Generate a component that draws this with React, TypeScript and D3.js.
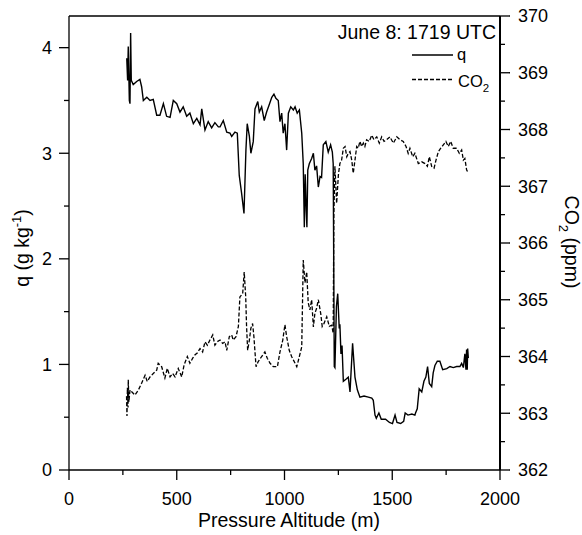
import React from 'react';
import * as d3 from 'd3';

// Aircraft profile, June 8, 1719 UTC: [pressure altitude (m), value]
const qProfile: [number, number][] = [
  [268, 3.90], [272, 3.69], [275, 4.01], [280, 3.50], [283, 3.47], [286, 4.14], [289, 3.69],
  [298, 3.65], [314, 3.68], [329, 3.70], [337, 3.63], [345, 3.50], [361, 3.53], [376, 3.50],
  [391, 3.51], [407, 3.36], [422, 3.36], [438, 3.47], [453, 3.35], [469, 3.34], [484, 3.50],
  [500, 3.47], [515, 3.39], [530, 3.44], [546, 3.35], [561, 3.38], [577, 3.28], [593, 3.33],
  [608, 3.27], [616, 3.42], [631, 3.22], [646, 3.30], [662, 3.24], [677, 3.29], [693, 3.25],
  [701, 3.25], [716, 3.31], [732, 3.20], [747, 3.19], [755, 3.16], [770, 3.20], [781, 3.19],
  [790, 2.79], [801, 2.62], [812, 2.43], [821, 3.03], [827, 3.28], [837, 3.16], [844, 3.00],
  [855, 3.11], [863, 3.42], [876, 3.49], [883, 3.39], [894, 3.44], [906, 3.31], [917, 3.39],
  [929, 3.46], [941, 3.53], [951, 3.56], [960, 3.52], [971, 3.50], [979, 3.30], [987, 3.38],
  [994, 3.19], [1002, 3.28], [1010, 3.03], [1018, 3.38], [1029, 3.44], [1041, 3.41],
  [1049, 3.44], [1059, 3.38], [1069, 3.41], [1080, 3.19], [1087, 2.90], [1092, 2.30],
  [1096, 2.80], [1101, 2.45], [1104, 2.30], [1108, 2.84], [1115, 2.90], [1126, 2.95],
  [1134, 3.00], [1141, 2.84], [1149, 2.88], [1157, 2.68], [1165, 2.78], [1172, 2.77],
  [1180, 3.08], [1192, 3.11], [1203, 3.01], [1214, 3.08], [1222, 3.01], [1226, 2.90],
  [1231, 0.98], [1234, 0.97], [1241, 1.55], [1247, 1.67], [1254, 1.34], [1257, 1.38],
  [1262, 1.10], [1267, 1.18], [1273, 0.84], [1285, 0.86], [1296, 0.88], [1304, 0.74],
  [1316, 1.20], [1327, 0.88], [1338, 0.76], [1350, 0.69], [1369, 0.70], [1389, 0.69],
  [1405, 0.68], [1412, 0.66], [1420, 0.52], [1426, 0.49], [1438, 0.54], [1449, 0.48],
  [1469, 0.48], [1487, 0.45], [1501, 0.44], [1513, 0.52], [1522, 0.45], [1539, 0.44],
  [1553, 0.46], [1560, 0.54], [1573, 0.52], [1591, 0.53], [1605, 0.52], [1608, 0.54],
  [1616, 0.58], [1625, 0.77], [1637, 0.74], [1647, 0.84], [1656, 0.88], [1664, 0.98],
  [1672, 0.82], [1683, 0.79], [1690, 0.92], [1698, 0.99], [1709, 1.03], [1721, 1.03],
  [1734, 0.95], [1753, 0.96], [1768, 0.98], [1783, 0.97], [1799, 0.98], [1814, 0.98],
  [1822, 1.01], [1830, 0.97], [1837, 1.10], [1842, 0.95], [1845, 1.14], [1848, 0.95],
  [1850, 1.15], [1853, 1.06],
];

const co2Profile: [number, number][] = [
  [267, 363.30], [269, 362.95], [271, 363.45], [274, 363.10], [275, 363.59], [278, 363.20],
  [283, 363.41], [291, 363.38], [306, 363.32], [322, 363.41], [337, 363.53], [353, 363.67],
  [363, 363.56], [376, 363.64], [391, 363.70], [407, 363.76], [414, 363.88], [430, 363.82],
  [445, 363.62], [456, 363.79], [469, 363.64], [481, 363.70], [492, 363.64], [507, 363.79],
  [523, 363.64], [534, 363.85], [549, 364.00], [561, 363.88], [574, 363.97], [585, 364.03],
  [595, 364.06], [608, 364.14], [620, 364.08], [631, 364.26], [642, 364.20], [654, 364.29],
  [667, 364.38], [677, 364.20], [688, 364.26], [701, 364.29], [713, 364.23], [724, 364.26],
  [732, 364.11], [744, 364.35], [755, 364.38], [762, 364.29], [775, 364.35], [786, 364.53],
  [793, 365.05], [806, 365.11], [813, 365.49], [820, 365.05], [824, 364.53], [829, 364.11],
  [837, 364.29], [844, 364.50], [852, 364.58], [858, 364.35], [868, 363.82], [878, 363.91],
  [894, 364.00], [909, 364.08], [920, 363.97], [933, 363.88], [948, 363.82], [967, 363.82],
  [979, 364.08], [992, 364.29], [1002, 364.56], [1010, 364.35], [1022, 364.11],
  [1033, 364.00], [1041, 363.94], [1057, 363.82], [1069, 364.00], [1080, 364.17],
  [1087, 365.70], [1095, 365.30], [1103, 365.49], [1110, 364.95], [1118, 364.82],
  [1126, 365.00], [1134, 364.52], [1141, 364.76], [1149, 364.85], [1157, 365.00],
  [1168, 364.76], [1175, 364.53], [1183, 364.58], [1196, 364.70], [1208, 364.53],
  [1219, 364.55], [1226, 364.41], [1229, 366.50], [1234, 367.35], [1242, 366.70],
  [1250, 367.20], [1257, 367.40], [1265, 367.46], [1273, 367.67], [1281, 367.70],
  [1289, 367.52], [1296, 367.58], [1304, 367.61], [1312, 367.46], [1319, 367.23],
  [1327, 367.46], [1335, 367.70], [1342, 367.67], [1350, 367.79], [1358, 367.70],
  [1366, 367.76], [1373, 367.70], [1381, 367.82], [1393, 367.79], [1405, 367.90],
  [1415, 367.82], [1428, 367.87], [1440, 367.76], [1451, 367.87], [1462, 367.79],
  [1474, 367.82], [1489, 367.87], [1505, 367.76], [1521, 367.87], [1536, 367.82],
  [1551, 367.79], [1564, 367.70], [1574, 367.58], [1582, 367.67], [1595, 367.52],
  [1605, 367.58], [1621, 367.40], [1637, 367.43], [1652, 367.40], [1663, 367.35],
  [1672, 367.52], [1683, 367.35], [1694, 367.32], [1703, 367.46], [1714, 367.61],
  [1725, 367.67], [1737, 367.73], [1749, 367.79], [1760, 367.70], [1771, 367.79],
  [1783, 367.67], [1799, 367.67], [1811, 367.58], [1822, 367.64], [1830, 367.46],
  [1837, 367.49], [1845, 367.29], [1853, 367.23],
];

const altTicks = [0, 500, 1000, 1500, 2000];
const altMinorTicks = [250, 750, 1250, 1750];
const qTicks = [0, 1, 2, 3, 4];
const qMinorTicks = [0.5, 1.5, 2.5, 3.5];
const co2Ticks = [362, 363, 364, 365, 366, 367, 368, 369, 370];
const co2MinorTicks = [362.5, 363.5, 364.5, 365.5, 366.5, 367.5, 368.5, 369.5];

const FONT = '"Liberation Sans", Arial, Helvetica, sans-serif';

const App: React.FC = () => {
  const width = 582;
  const height = 535;
  const margin = { top: 16, right: 82, bottom: 65, left: 69 };
  const x0 = margin.left;
  const x1 = width - margin.right;
  const y0 = height - margin.bottom;
  const y1 = margin.top;

  const x = d3.scaleLinear().domain([0, 2000]).range([x0, x1]);
  const yQ = d3.scaleLinear().domain([0, 4.3]).range([y0, y1]);
  const yC = d3.scaleLinear().domain([362, 370]).range([y0, y1]);

  const qLine = d3.line<[number, number]>()
    .x(d => x(d[0]))
    .y(d => yQ(d[1]));
  const co2Line = d3.line<[number, number]>()
    .x(d => x(d[0]))
    .y(d => yC(d[1]));

  const major = 10;
  const minor = 5;

  return (
    <svg
      width={width}
      height={height}
      style={{ position: 'absolute', left: 0, top: 0, background: '#fff' }}
      fontFamily={FONT}
    >
      {/* data */}
      <path d={co2Line(co2Profile) || ''} fill="none" stroke="#000" strokeWidth={1.3} strokeDasharray="4,2" />
      <path d={qLine(qProfile) || ''} fill="none" stroke="#000" strokeWidth={1.4} />

      {/* frame */}
      <line x1={x0} x2={x1} y1={y1} y2={y1} stroke="#000" strokeWidth={1.3} />
      <line x1={x0} x2={x1} y1={y0} y2={y0} stroke="#000" strokeWidth={1.3} />
      <line x1={x0} x2={x0} y1={y1} y2={y0} stroke="#000" strokeWidth={1.3} />
      <line x1={x1} x2={x1} y1={y1} y2={y0} stroke="#000" strokeWidth={2} />

      {/* bottom axis */}
      {altTicks.map(t => (
        <g key={'xt' + t}>
          <line x1={x(t)} x2={x(t)} y1={y0} y2={y0 + major} stroke="#000" strokeWidth={1.3} />
          <text x={x(t)} y={505} textAnchor="middle" fontSize={18}>{t}</text>
        </g>
      ))}
      {altMinorTicks.map(t => (
        <line key={'xm' + t} x1={x(t)} x2={x(t)} y1={y0} y2={y0 + minor} stroke="#000" strokeWidth={1.3} />
      ))}
      <text x={289} y={527} textAnchor="middle" fontSize={19.5}>Pressure Altitude (m)</text>

      {/* left axis */}
      {qTicks.map(t => (
        <g key={'qt' + t}>
          <line x1={x0 - major} x2={x0} y1={yQ(t)} y2={yQ(t)} stroke="#000" strokeWidth={1.3} />
          <text x={52} y={yQ(t)} dy="0.36em" textAnchor="end" fontSize={18}>{t}</text>
        </g>
      ))}
      {qMinorTicks.map(t => (
        <line key={'qm' + t} x1={x0 - minor} x2={x0} y1={yQ(t)} y2={yQ(t)} stroke="#000" strokeWidth={1.3} />
      ))}
      <text transform="translate(29,248) rotate(-90)" textAnchor="middle" fontSize={19.5}>
        q (g kg<tspan dy={-8} fontSize={13}>-1</tspan><tspan dy={8}>)</tspan>
      </text>

      {/* right axis */}
      {co2Ticks.map(t => (
        <g key={'ct' + t}>
          <line x1={x1} x2={x1 + major} y1={yC(t)} y2={yC(t)} stroke="#000" strokeWidth={1.3} />
          <text x={518} y={yC(t)} dy="0.36em" textAnchor="start" fontSize={18}>{t}</text>
        </g>
      ))}
      {co2MinorTicks.map(t => (
        <line key={'cm' + t} x1={x1} x2={x1 + minor} y1={yC(t)} y2={yC(t)} stroke="#000" strokeWidth={1.3} />
      ))}
      <text transform="translate(565,242) rotate(90)" textAnchor="middle" fontSize={19.5}>
        CO<tspan dy={6} fontSize={13}>2</tspan><tspan dy={-6}>{'\u00a0(ppm)'}</tspan>
      </text>

      {/* title and legend */}
      <text x={496} y={39} textAnchor="end" fontSize={19.5}>June 8: 1719 UTC</text>
      <line x1={412} x2={453} y1={55} y2={55} stroke="#000" strokeWidth={1.3} />
      <text x={457} y={60} fontSize={16.5}>q</text>
      <line x1={412} x2={453} y1={79.5} y2={79.5} stroke="#000" strokeWidth={1.3} strokeDasharray="4,2" />
      <text x={458} y={87} fontSize={16.5}>
        CO<tspan dy={5} fontSize={11.5}>2</tspan>
      </text>
    </svg>
  );
};

export default App;
